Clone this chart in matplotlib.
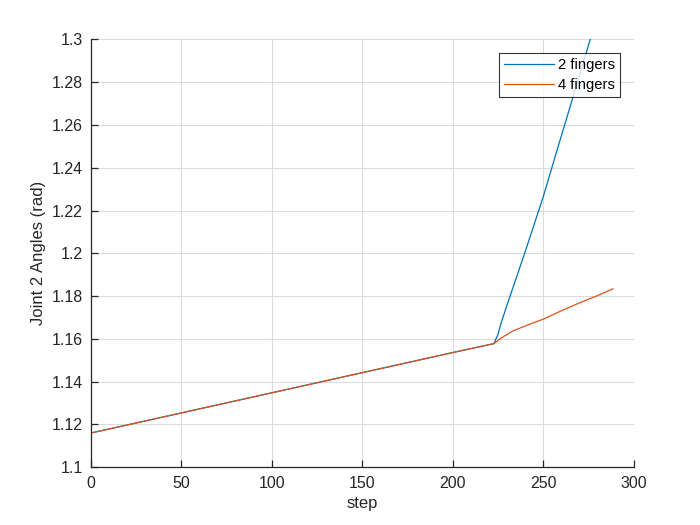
import matplotlib.pyplot as plt
import numpy as np

plt.rcParams['font.family'] = ['Liberation Sans', 'DejaVu Sans']

# values (step, joint 2 angle in rad)
steps_common = [1, 50, 100, 150, 200, 222.8]
angle_common = [1.1162, 1.1254, 1.1348, 1.1442, 1.1536, 1.1578]

steps_2f = [222.8, 225, 227, 229.7, 240, 250, 258, 266.5, 275, 288.8]
angle_2f = [1.1578, 1.1620, 1.1680, 1.1749, 1.2005, 1.2262, 1.2490, 1.2729, 1.2970, 1.3350]

steps_4f = [222.8, 227, 233, 240, 250, 260, 270, 280, 288.6]
angle_4f = [1.1578, 1.1605, 1.1636, 1.1660, 1.1692, 1.1731, 1.1768, 1.1802, 1.1834]

BLUE = "#0072BD"
ORANGE = "#D95319"
AXCOL = "#262626"

x2 = steps_common[:-1] + steps_2f
y2 = angle_common[:-1] + angle_2f
x4 = steps_common[:-1] + steps_4f
y4 = angle_common[:-1] + angle_4f

fig = plt.figure(figsize=(7, 5.25), dpi=100)
ax = fig.add_axes([0.13, 0.11, 0.775, 0.815])

ax.plot(x2, y2, color=BLUE, lw=0.9, label="2 fingers")
ax.plot(x4, y4, color=ORANGE, lw=0.9, label="4 fingers")

ax.set_xlim(0, 300)
ax.set_ylim(1.1, 1.3)
ax.set_xticks(np.arange(0, 301, 50))
ax.set_yticks(np.arange(1.1, 1.3001, 0.02))
ax.set_yticklabels(["1.1", "1.12", "1.14", "1.16", "1.18", "1.2",
                    "1.22", "1.24", "1.26", "1.28", "1.3"])

ax.grid(True, color="#dcdcdc", lw=0.8)
ax.set_axisbelow(True)
for side in ["top", "right"]:
    ax.spines[side].set_visible(False)
for side in ["left", "bottom"]:
    ax.spines[side].set_color(AXCOL)
    ax.spines[side].set_linewidth(0.9)
ax.tick_params(direction="in", length=5, width=0.9, colors=AXCOL,
               labelsize=11.5, pad=6)

ax.set_xlabel("step", fontsize=12, color=AXCOL)
ax.set_ylabel("Joint 2 Angles (rad)", fontsize=12, color=AXCOL)

leg = ax.legend(loc="upper right", bbox_to_anchor=(0.976, 0.968), fontsize=10.6,
                frameon=True, fancybox=False, handlelength=3.4,
                handletextpad=0.3, borderpad=0.35, labelspacing=0.4,
                borderaxespad=0)
leg.get_frame().set_edgecolor("black")
leg.get_frame().set_linewidth(0.8)

fig.savefig("out.png", dpi=100)
